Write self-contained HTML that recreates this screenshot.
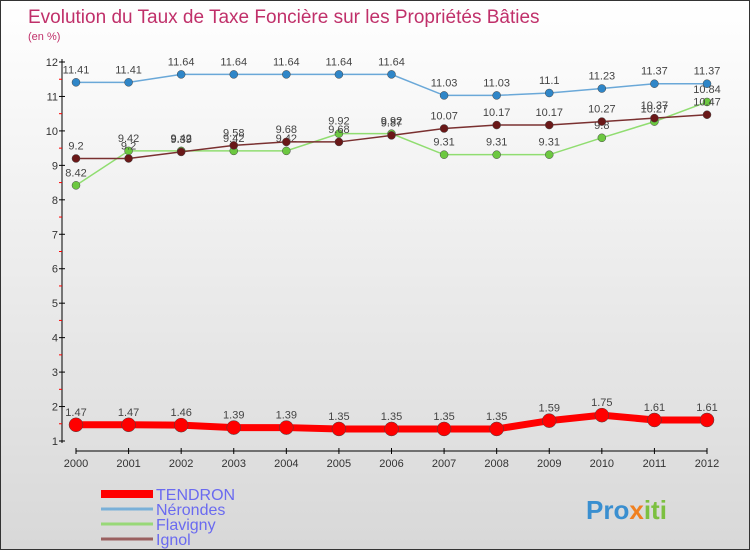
<!DOCTYPE html>
<html><head><meta charset="utf-8"><style>
body{margin:0}
#c{width:748px;height:548px;border:1px solid #333;background:linear-gradient(#fff,#d8d8d8);position:relative;font-family:"Liberation Sans",sans-serif;overflow:hidden}
svg{position:absolute;left:0;top:0}
</style></head><body>
<div id="c">
<svg id="s" width="750" height="550">
<text x="27" y="22" font-size="19" fill="#c0306a">Evolution du Taux de Taxe Foncière sur les Propriétés Bâties</text>
<text x="27" y="39" font-size="11" fill="#c0306a">(en %)</text>
<text x="585" y="518" font-size="26" font-weight="bold" fill="#3a8fd0">Pro<tspan fill="#f08020">x</tspan><tspan fill="#7cc040">iti</tspan></text>
</svg>
</div>
<script>
const years=["2000","2001","2002","2003","2004","2005","2006","2007","2008","2009","2010","2011","2012"];
const tendron=[1.47,1.47,1.46,1.39,1.39,1.35,1.35,1.35,1.35,1.59,1.75,1.61,1.61];
const nerondes=[11.41,11.41,11.64,11.64,11.64,11.64,11.64,11.03,11.03,11.1,11.23,11.37,11.37];
const flavigny=[8.42,9.42,9.42,9.42,9.42,9.92,9.92,9.31,9.31,9.31,9.8,10.27,10.84];
const ignol=[9.2,9.2,9.39,9.58,9.68,9.68,9.87,10.07,10.17,10.17,10.27,10.37,10.47];
const yTicks=[1,2,3,4,5,6,7,8,9,10,11,12];
const seriesNames=["TENDRON","Nérondes","Flavigny","Ignol"];
const NS="http://www.w3.org/2000/svg",s=document.getElementById('s');
const X=i=>75+i*(706-75)/(years.length-1);
const Y=v=>440-(v-1)*(440-61)/11;
function el(t,a,p){const e=document.createElementNS(NS,t);for(const k in a)e.setAttribute(k,a[k]);(p||s).appendChild(e);return e;}
let ax=el('line',{x1:61,y1:58,x2:61,y2:442,stroke:'#000'});


yTicks.forEach(v=>{el('line',{x1:58,x2:64,y1:Y(v),y2:Y(v),stroke:'#000'});
 if(v<12)el('line',{x1:58,x2:61,y1:Y(v+0.5),y2:Y(v+0.5),stroke:'#f00'});
 const t=el('text',{x:57,y:Y(v)+4,'font-size':11,fill:'#333','text-anchor':'end'});t.textContent=v;
 
 });
let xa=el('line',{x1:75,y1:450,x2:706,y2:450,stroke:'#000'});


years.forEach((y,i)=>{el('line',{x1:X(i),x2:X(i),y1:447,y2:453,stroke:'#000'});
 const t=el('text',{x:X(i),y:466,'font-size':11,fill:'#333','text-anchor':'middle'});t.textContent=y;
 
 });
function series(d,col,lw,r,name,dot){
 const p=el('polyline',{points:d.map((v,i)=>X(i)+','+Y(v)).join(' '),fill:'none',stroke:col,'stroke-width':lw});
 
 
 d.forEach((v,i)=>{const c=el('circle',{cx:X(i),cy:Y(v),r:r,fill:dot,stroke:'#444','stroke-width':0.5});
  
  
  const t=el('text',{x:X(i),y:Y(v)-9,'font-size':11,fill:'#444','text-anchor':'middle'});t.textContent=v;
  
  });
}
series(nerondes,'#6aa8d8',1.5,4,'nerondes','#2f86c8');
series(flavigny,'#90dd70',1.5,4,'flavigny','#6cc840');
series(ignol,'#7a3030',1.5,4,'ignol','#6a1818');
series(tendron,'#f00',7,7,'tendron','#f00');
const lc=['#f00','#7ab0d8','#98d878','#9a6060'],lw=[8,3,3,3],ly=[493,508,523,538];
seriesNames.forEach((n,i)=>{const l=el('line',{x1:100,x2:152,y1:ly[i],y2:ly[i],stroke:lc[i],'stroke-width':lw[i]});
 
 
 const t=el('text',{x:155,y:ly[i]+6,'font-size':16,fill:'#6a6af0'});t.textContent=n;
 
 });
</script>
</body></html>
